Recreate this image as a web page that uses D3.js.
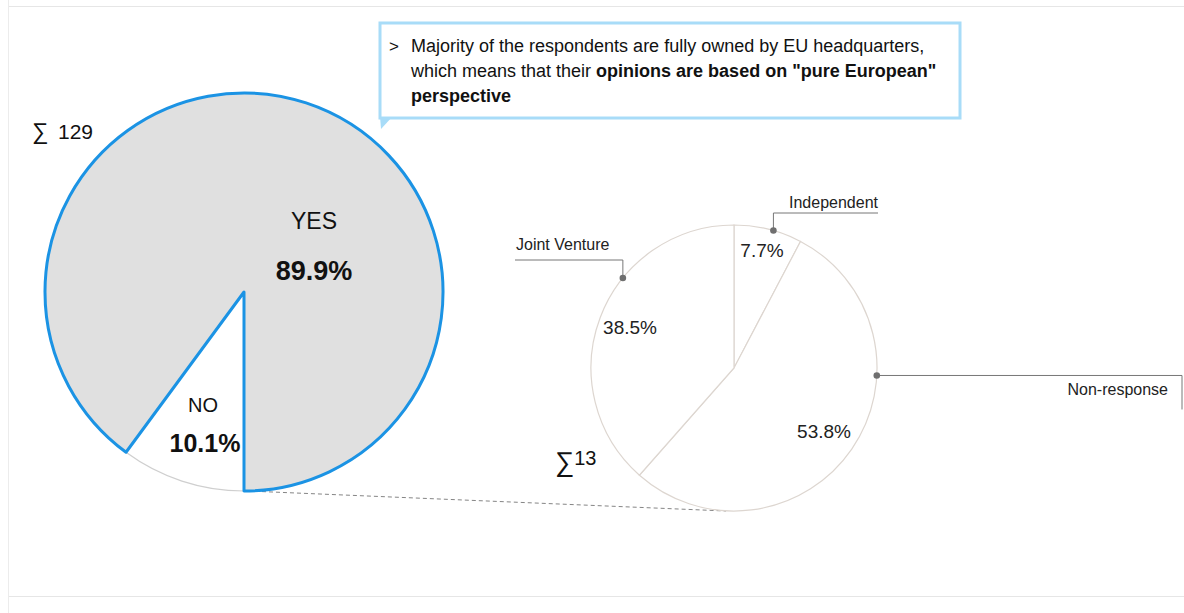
<!DOCTYPE html>
<html><head><meta charset="utf-8">
<script src="https://cdn.jsdelivr.net/npm/d3@7"></script>
<style>
html,body{margin:0;padding:0;background:#fff;}
svg{display:block;font-family:"Liberation Sans",Arial,sans-serif;}
</style></head>
<body>
<svg id="chart" width="1184" height="613"></svg>
<script>
// ---- data ----
const ownershipCategories = ["NO", "YES"];
const ownershipShares = [10.1, 89.9];
const ownershipTotal = 129;
const breakdownCategories = ["Independent", "Non-response", "Joint Venture"];
const breakdownShares = [7.7, 53.8, 38.5];
const breakdownTotal = 13;
const calloutLine1 = "Majority of the respondents are fully owned by EU headquarters,";
const calloutLine2a = "which means that their ";
const calloutLine2b = "opinions are based on \"pure European\"";
const calloutLine3 = "perspective";

const svg = d3.select("#chart");
const W = 1184, H = 613;
const fmt = v => v.toFixed(1) + "%";

// frame
svg.append("line").attr("x1", 8).attr("x2", W).attr("y1", 6.5).attr("y2", 6.5).attr("stroke", "#e6e6e6");
svg.append("line").attr("x1", 8).attr("x2", W).attr("y1", 596.5).attr("y2", 596.5).attr("stroke", "#e6e6e6");
svg.append("line").attr("x1", 8.5).attr("x2", 8.5).attr("y1", 0).attr("y2", H).attr("stroke", "#ececec");

// ---- left pie ----
const L = {cx: 244, cy: 292, r: 199};
const R = {cx: 734, cy: 368, r: 143};
const pieL = d3.pie().sort(null).startAngle(Math.PI).endAngle(3 * Math.PI);
const arcsL = pieL(ownershipShares);
const arcL = d3.arc().innerRadius(0).outerRadius(L.r);

// dashed connector (behind)
svg.append("line").attr("x1", L.cx + 4).attr("y1", L.cy + L.r)
  .attr("x2", R.cx - 8).attr("y2", R.cy + R.r)
  .attr("stroke", "#858585").attr("stroke-width", 1).attr("stroke-dasharray", "4,3");

const gL = svg.append("g").attr("transform", `translate(${L.cx},${L.cy})`);
gL.append("path").attr("d", arcL(arcsL[0])).attr("fill", "#ffffff")
  .attr("stroke", "#cfcfcf").attr("stroke-width", 1.2);
gL.append("path").attr("d", arcL(arcsL[1])).attr("fill", "#e0e0e0")
  .attr("stroke", "#1b93e4").attr("stroke-width", 3).attr("stroke-linejoin", "round");

// labels left
gL.append("text").attr("x", 70).attr("y", -63).attr("text-anchor", "middle")
  .attr("font-size", 23).attr("fill", "#111").text(ownershipCategories[1]);
gL.append("text").attr("x", 70).attr("y", -12).attr("text-anchor", "middle")
  .attr("font-size", 27).attr("font-weight", "bold").attr("fill", "#111").text(fmt(ownershipShares[1]));
gL.append("text").attr("x", -41).attr("y", 120).attr("text-anchor", "middle")
  .attr("font-size", 20).attr("fill", "#111").text(ownershipCategories[0]);
gL.append("text").attr("x", -39).attr("y", 160).attr("text-anchor", "middle")
  .attr("font-size", 25).attr("font-weight", "bold").attr("fill", "#111").text(fmt(ownershipShares[0]));

const s129 = svg.append("text").attr("y", 139).attr("fill", "#111");
s129.append("tspan").attr("x", 32).attr("font-size", 23).text("\u2211");
s129.append("tspan").attr("x", 58).attr("font-size", 21).text(ownershipTotal);

// ---- right pie ----
const pieR = d3.pie().sort(null);
const arcsR = pieR(breakdownShares);
const arcR = d3.arc().innerRadius(0).outerRadius(R.r);
const gR = svg.append("g").attr("transform", `translate(${R.cx},${R.cy})`);
gR.selectAll("path.s").data(arcsR).join("path").attr("class", "s")
  .attr("d", arcR).attr("fill", "#fff").attr("stroke", "#ddd6d0").attr("stroke-width", 1.2);

// percentage labels (layout offsets)
const pctAt = [[28, -111], [90, 70], [-104, -34]];
gR.selectAll("text.p").data(arcsR).join("text").attr("class", "p")
  .attr("x", (d, i) => pctAt[i][0]).attr("y", (d, i) => pctAt[i][1])
  .attr("text-anchor", "middle").attr("font-size", 19).attr("fill", "#222")
  .text(d => fmt(d.value));

// leader annotations
const leaderAngleDeg = [16, 93, 309];
const leaders = [
  {elbowY: 213, endX: 878, textX: 878, anchor: "end", textY: 208, down: false},
  {elbowY: null, endX: 1182, textX: 1168, anchor: "end", textY: 395, down: true},
  {elbowY: 260, endX: 515, textX: 516, anchor: "start", textY: 250, down: false}
];
breakdownCategories.forEach((name, i) => {
  const a = leaderAngleDeg[i] * Math.PI / 180;
  const px = R.cx + R.r * Math.sin(a), py = R.cy - R.r * Math.cos(a);
  const lk = leaders[i];
  const pts = lk.down
    ? [[px, py], [lk.endX, py], [lk.endX, py + 34]]
    : [[px, py], [px, lk.elbowY], [lk.endX, lk.elbowY]];
  svg.append("path").attr("d", d3.line()(pts)).attr("fill", "none")
    .attr("stroke", "#777").attr("stroke-width", 1);
  svg.append("circle").attr("cx", px).attr("cy", py).attr("r", 3.3).attr("fill", "#6f6f6f");
  svg.append("text").attr("x", lk.textX).attr("y", lk.textY).attr("text-anchor", lk.anchor)
    .attr("font-size", 16).attr("fill", "#222").text(name);
});

// sigma 13
const s13 = svg.append("text").attr("x", 555).attr("y", 471).attr("fill", "#111");
s13.append("tspan").attr("font-size", 27).text("\u2211");
s13.append("tspan").attr("font-size", 20).attr("dy", -6).text(breakdownTotal);

// ---- callout ----
const box = {x: 380, y: 23, w: 580, h: 95};
svg.append("path")
  .attr("d", `M${box.x},${box.y + box.h - 2} L${box.x + 1},${box.y + box.h + 11} L${box.x + 13},${box.y + box.h - 2} Z`)
  .attr("fill", "#a8dcf8");
svg.append("rect").attr("x", box.x).attr("y", box.y).attr("width", box.w).attr("height", box.h)
  .attr("fill", "#fff").attr("stroke", "#a8dcf8").attr("stroke-width", 3);
svg.append("text").attr("x", 389).attr("y", 52).attr("font-size", 17).attr("fill", "#111").text(">");
svg.append("text").attr("x", 411).attr("y", 52).attr("font-size", 18).attr("fill", "#111").text(calloutLine1);
const l2 = svg.append("text").attr("x", 411).attr("y", 77).attr("font-size", 18).attr("fill", "#111");
l2.append("tspan").text(calloutLine2a);
l2.append("tspan").attr("font-weight", "bold").text(calloutLine2b);
svg.append("text").attr("x", 411).attr("y", 102).attr("font-size", 18).attr("font-weight", "bold")
  .attr("fill", "#111").text(calloutLine3);
</script>
</body></html>
